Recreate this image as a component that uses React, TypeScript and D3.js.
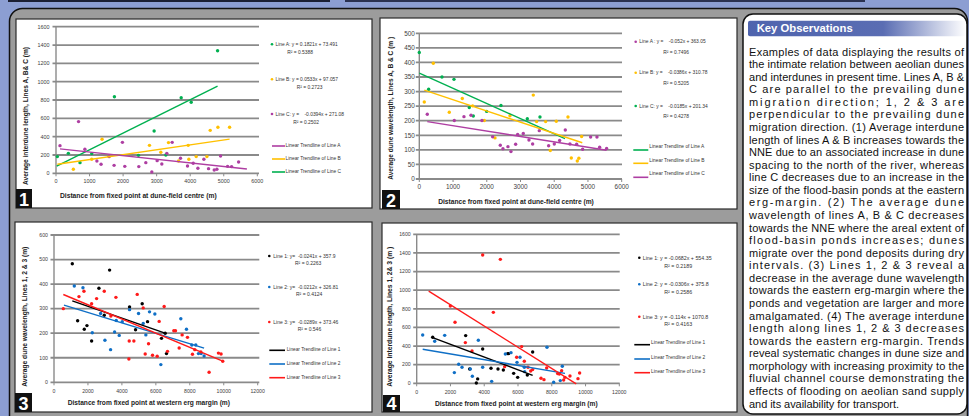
import React from 'react';
import * as d3 from 'd3';

type Pt = [number, number];

const FONT = "'Liberation Sans', Arial, Helvetica, sans-serif";

// ================= DATA =================
// Panel 1 – average interdune length (m), lines A, B & C
const p1Green: Pt[] = [[40, 182], [368, 218], [716, 116], [1065, 215], [1741, 836], [2458, 196], [2925, 462], [3274, 200], [3731, 825], [4030, 775], [4816, 1338]];
const p1Yellow: Pt[] = [[517, 44], [1065, 153], [1373, 371], [1582, 182], [2786, 305], [3124, 229], [3353, 335], [3652, 135], [3940, 305], [3960, 153], [4179, 182], [4498, 182], [4597, 469], [4826, 502], [5174, 502]];
const p1Purple: Pt[] = [[119, 302], [672, 564], [861, 262], [1219, 135], [1343, 98], [1582, 182], [1731, 87], [1980, 338], [2050, 76], [2468, 73], [2677, 116], [2856, 15], [3015, 138], [3154, 102], [3303, 218], [3463, 338], [3711, 164], [3920, 80], [4090, 109], [4229, 55], [4408, 153], [4547, 51], [4716, 36], [4796, 44], [4905, 189], [5114, 76], [5234, 73], [5443, 124]];
const p1Trends: number[][] = [[0.1821, 73.491], [0.0533, 97.057], [-0.0394, 271.08]];
const p1TrendSpans: number[][] = [[20, 4816], [40, 5174], [119, 5690]];
const p1Equations = ['Line A: y = 0.1821x + 73.491', 'Line B: y = 0.0533x + 97.057', 'Line C: y =    -0.0394x + 271.08'];
const p1R2 = ['R\u00B2 = 0.5388', 'R\u00B2 = 0.2723', 'R\u00B2 = 0.2502'];
const p1TrendNames = ['Linear Trendline of Line A', 'Linear Trendline of Line B', 'Linear Trendline of Line C'];

// Panel 2 – average dune wavelength (m), lines A, B & C
const p2Green: Pt[] = [[0, 434], [277, 308], [672, 350], [1028, 342], [1482, 245], [1601, 216], [1996, 232], [2421, 252], [3202, 207], [3577, 213]];
const p2Yellow: Pt[] = [[148, 264], [415, 397], [889, 229], [1275, 276], [1581, 251], [1927, 201], [2243, 141], [2688, 217], [3379, 288], [3478, 197], [3745, 197], [3883, 98], [4061, 198], [4407, 213], [4506, 72], [4684, 62], [4730, 71], [4812, 146]];
const p2Purple: Pt[] = [[237, 222], [1038, 201], [1324, 214], [1532, 219], [1858, 201], [2174, 145], [2401, 116], [2480, 104], [2628, 111], [2717, 94], [2856, 119], [2915, 153], [3083, 156], [3251, 134], [3360, 120], [3557, 166], [3834, 114], [4002, 120], [4160, 132], [4328, 168], [4466, 120], [4664, 119], [4842, 102], [5079, 144], [5267, 144], [5346, 109], [5553, 105]];
const p2Trends: number[][] = [[-0.052, 363.05], [-0.0386, 310.78], [-0.0185, 201.34]];
const p2TrendSpans: number[][] = [[0, 4318], [148, 4832], [237, 5553]];
const p2Equations = ['Line A : y =    -0.052x + 363.05', 'Line B: y =    -0.0386x + 310.78', 'Line C: y =    -0.0185x + 201.34'];
const p2R2 = ['R\u00B2 = 0.7496', 'R\u00B2 = 0.5205', 'R\u00B2 = 0.4278'];
const p2TrendNames = ['Linear Trendline of Line A', 'Linear Trendline of Line B', 'Linear Trendline of Line C'];

// Panel 3 – average dune wavelength (m), lines 1, 2 & 3
const p3Black: Pt[] = [[1078, 483], [1392, 251], [1784, 216], [1941, 231], [2216, 168], [2647, 383], [2961, 273], [3275, 457], [4451, 307], [4804, 214], [5196, 320], [5510, 247], [6333, 179], [6549, 200], [6627, 117]];
const p3Blue: Pt[] = [[1196, 392], [1706, 385], [2255, 202], [2745, 280], [3000, 171], [3333, 133], [3569, 205], [3667, 252], [3843, 191], [4020, 247], [4451, 296], [4980, 280], [5255, 240], [5412, 193], [5627, 287], [5941, 278], [6294, 72], [7471, 259], [7804, 216], [8118, 152], [8353, 152], [8510, 117], [8667, 117], [8843, 107]];
const p3Red: Pt[] = [[549, 300], [1471, 349], [1765, 371], [2216, 320], [2510, 341], [2961, 371], [3353, 270], [3647, 346], [4412, 95], [4431, 168], [4706, 168], [4902, 358], [5255, 303], [5373, 115], [5569, 157], [5804, 110], [6078, 106], [6196, 248], [6490, 309], [6686, 126], [7059, 210], [7157, 210], [7373, 140], [7549, 193], [7863, 183], [8157, 114], [8294, 133], [8647, 124], [9137, 41], [9686, 119], [9843, 115], [9941, 86]];
const p3Trends: number[][] = [[-0.0241, 357.9], [-0.0212, 326.81], [-0.0289, 373.46]];
const p3TrendSpans: number[][] = [[1078, 6627], [588, 8843], [549, 9941]];
const p3Equations = ['Line 1: y=  -0.0241x + 357.9', 'Line 2: y=  -0.0212x + 326.81', 'Line 3: y=  -0.0289x + 373.46'];
const p3R2 = ['R\u00B2 = 0.2263', 'R\u00B2 = 0.4124', 'R\u00B2 = 0.546'];
const p3TrendNames = ['Linear Trendline of Line 1', 'Linear Trendline of Line 2', 'Linear Trendline of Line 3'];

// Panel 4 – average interdune length (m), lines 1, 2 & 3
const p4Black: Pt[] = [[947, 494], [2901, 512], [3138, 154], [3533, 4], [3612, 47], [3908, 369], [4401, 161], [4816, 154], [5132, 143], [5388, 319], [5447, 319], [5743, 107], [5980, 64], [6552, 89], [6868, 336]];
const p4Blue: Pt[] = [[355, 519], [1066, 451], [1658, 515], [2230, 115], [2487, 204], [2684, 172], [3178, 154], [3296, 75], [3651, 462], [3908, 172], [4441, 21], [5250, 315], [5586, 329], [5941, 225], [6118, 279], [6374, 172], [6394, 125], [7717, 387], [8112, 11], [8506, 29], [8625, 183]];
const p4Red: Pt[] = [[1993, 830], [2270, 655], [2881, 437], [3276, 347], [3908, 1378], [4539, 762], [4954, 1331], [5210, 179], [5921, 279], [6217, 394], [6374, 236], [6592, 172], [6750, 132], [6868, 147], [7362, 54], [7539, 39], [7697, 165], [8348, 104], [8447, 100], [8585, 136], [8704, 36], [8782, 64], [9078, 79], [9552, 50], [9651, 111]];
const p4Trends: number[][] = [[-0.0682, 554.35], [-0.0306, 375.8], [-0.114, 1070.8]];
const p4TrendSpans: number[][] = [[947, 6868], [355, 8782], [710, 9450]];
const p4Equations = ['Line 1: y = -0.0682x + 554.35', 'Line 2: y = -0.0306x + 375.8', 'Line 3: y = -0.114x + 1070.8'];
const p4R2 = ['R\u00B2 = 0.2189', 'R\u00B2 = 0.2586', 'R\u00B2 = 0.4163'];
const p4TrendNames = ['Linear Trendline of Line 1', 'Linear Trendline of Line 2', 'Linear Trendline of Line 3'];

const keyTitle = 'Key Observations';
const keyLines = [
  'Examples of data displaying the results of',
  'the intimate relation between aeolian dunes',
  'and interdunes in present time. Lines A, B &',
  'C are parallel to the prevailing dune',
  'migration direction; 1, 2 & 3 are',
  'perpendicular to the prevailing dune',
  'migration direction. (1) Average interdune',
  'length of lines A & B increases towards the',
  'NNE due to an associated increase in dune',
  'spacing to the north of the river, whereas',
  'line C decreases due to an increase in the',
  'size of the flood-basin ponds at the eastern',
  'erg-margin. (2) The average dune',
  'wavelength of lines A, B & C decreases',
  'towards the NNE where the areal extent of',
  'flood-basin ponds increases; dunes',
  'migrate over the pond deposits during dry',
  'intervals. (3) Lines 1, 2 & 3 reveal a',
  'decrease in the average dune wavelength',
  'towards the eastern erg-margin where the',
  'ponds and vegetation are larger and more',
  'amalgamated. (4) The average interdune',
  'length along lines 1, 2 & 3 decreases',
  'towards the eastern erg-margin. Trends',
  'reveal systematic changes in dune size and',
  'morphology with increasing proximity to the',
  'fluvial channel course demonstrating the',
  'effects of flooding on aeolian sand supply',
  'and its availability for transport.',
];

// ================= STYLE =================
const C = {
  green: '#00b050', yellow: '#ffc000', purple: '#ae3ea2',
  black: '#000000', blue: '#0f6fc6', red: '#ff1a1a',
  grid: '#8a8a8a', tick: '#404040', bg: '#8c9ed2', panel: '#9c9c9c',
};

interface PanelCfg {
  num: string;
  box: number[];
  plot: number[]; // x0, x1, yBottom, yTop
  gridRight: number;
  xDomain: number[]; yDomain: number[]; xStep: number; yStep: number;
  tickFont: number; yLabelGap: number; xLabelGap: number;
  xTitle: string; xTitlePos: number[]; // cx, baseline, length
  yTitle: string; yTitlePos: number[]; // x, cy, length
  series: Pt[][]; colors: string[]; trends: number[][]; spans: number[][];
  legend: { markerX: number; textX: number; ys: number[]; r2X: number[]; r2Ys: number[]; eq: string[]; r2: string[]; colors: string[]; font: number };
  tLegend: { x0: number; x1: number; ys: number[]; textX: number; textYs: number[]; names: string[]; colors: string[]; font: number };
  badge: number[];
}

function Panel({ p }: { p: PanelCfg }) {
  const x = d3.scaleLinear().domain(p.xDomain).range([p.plot[0], p.plot[1]]);
  const y = d3.scaleLinear().domain(p.yDomain).range([p.plot[2], p.plot[3]]);
  const xt = d3.range(p.xDomain[0], p.xDomain[1] + 1, p.xStep);
  const yt = d3.range(p.yDomain[0], p.yDomain[1] + 1, p.yStep);
  const line = d3.line<Pt>().x(d => x(d[0])).y(d => y(d[1]));
  const [bx, by, bw, bh] = p.box;
  return (
    <g fontFamily={FONT}>
      <rect x={bx} y={by} width={bw} height={bh} fill="#fff" stroke="#2a2a2a" strokeWidth={1.2} />
      {yt.map(v => (
        <line key={'g' + v} x1={p.plot[0] - 3.5} x2={p.gridRight} y1={y(v)} y2={y(v)} stroke={C.grid} strokeWidth={1.8} />
      ))}
      <line x1={p.plot[0]} x2={p.plot[0]} y1={y(p.yDomain[1])} y2={y(0)} stroke={C.grid} strokeWidth={1.4} />
      {xt.map(v => (
        <line key={'xt' + v} x1={x(v)} x2={x(v)} y1={y(0)} y2={y(0) + 3} stroke={C.grid} strokeWidth={1} />
      ))}
      {yt.map(v => (
        <text key={'yl' + v} x={p.plot[0] - p.yLabelGap} y={y(v) + p.tickFont * 0.35} textAnchor="end" fontSize={p.tickFont} fill={C.tick}>{v}</text>
      ))}
      {xt.map(v => (
        <text key={'xl' + v} x={x(v)} y={y(0) + p.xLabelGap} textAnchor="middle" fontSize={p.tickFont} fill={C.tick}>{v}</text>
      ))}
      {p.series.map((pts, i) => (
        <g key={'s' + i}>
          {pts.map((d, j) => (
            <circle key={j} cx={x(d[0])} cy={y(d[1])} r={1.7} fill={p.colors[i]} />
          ))}
        </g>
      ))}
      {p.trends.map((t, i) => {
        const [x0, x1] = p.spans[i];
        const seg: Pt[] = [[x0, t[0] * x0 + t[1]], [x1, t[0] * x1 + t[1]]];
        return <path key={'t' + i} d={line(seg) || ''} stroke={p.colors[i]} strokeWidth={1.4} fill="none" />;
      })}
      {p.legend.eq.map((s, i) => (
        <g key={'lg' + i}>
          <circle cx={p.legend.markerX} cy={p.legend.ys[i]} r={1.3} fill={p.legend.colors[i]} />
          <text x={p.legend.textX} y={p.legend.ys[i] + p.legend.font * 0.35} fontSize={p.legend.font} fill="#333" style={{ whiteSpace: 'pre' }}>{s}</text>
          <text x={p.legend.r2X[i]} y={p.legend.r2Ys[i] + p.legend.font * 0.35} fontSize={p.legend.font} fill="#333">{p.legend.r2[i]}</text>
        </g>
      ))}
      {p.tLegend.names.map((s, i) => (
        <g key={'tl' + i}>
          <line x1={p.tLegend.x0} x2={p.tLegend.x1} y1={p.tLegend.ys[i]} y2={p.tLegend.ys[i]} stroke={p.tLegend.colors[i]} strokeWidth={1.6} />
          <text x={p.tLegend.textX} y={p.tLegend.textYs[i] + p.tLegend.font * 0.35} fontSize={p.tLegend.font} fill="#333">{s}</text>
        </g>
      ))}
      <text x={p.xTitlePos[0]} y={p.xTitlePos[1]} textAnchor="middle" fontSize={7} fontWeight="bold" fill="#222"
        textLength={p.xTitlePos[2]} lengthAdjust="spacingAndGlyphs">{p.xTitle}</text>
      <text x={p.yTitlePos[0]} y={p.yTitlePos[1]} transform={`rotate(-90 ${p.yTitlePos[0]} ${p.yTitlePos[1]})`} textAnchor="middle"
        dominantBaseline="central" fontSize={6.6} fontWeight="bold" fill="#222" textLength={p.yTitlePos[2]} lengthAdjust="spacingAndGlyphs">{p.yTitle}</text>
      <rect x={p.badge[0]} y={p.badge[1]} width={p.badge[2]} height={p.badge[3]} fill="#111" />
      <text x={p.badge[0] + p.badge[2] / 2} y={p.badge[1] + p.badge[3] - 2.5} textAnchor="middle" fontSize={18} fontWeight="bold" fill="#fff">{p.num}</text>
    </g>
  );
}

const panels: PanelCfg[] = [
  {
    num: '1', box: [16, 19, 356, 189], plot: [56, 257.3, 173.3, 26.7], gridRight: 259,
    xDomain: [0, 6000], yDomain: [0, 1600], xStep: 1000, yStep: 200, tickFont: 5.4, yLabelGap: 6.5, xLabelGap: 9.3,
    xTitle: 'Distance from fixed point at dune-field centre (m)', xTitlePos: [138.3, 197.6, 156.7],
    yTitle: 'Average interdune length, Lines A, B& C (m)', yTitlePos: [25.5, 116, 138],
    series: [p1Green, p1Yellow, p1Purple], colors: [C.green, C.yellow, C.purple], trends: p1Trends, spans: p1TrendSpans,
    legend: { markerX: 272, textX: 275.5, ys: [44.3, 79.3, 114], r2X: [287.3, 296.7, 293.3], r2Ys: [52, 87, 122], eq: p1Equations, r2: p1R2, colors: [C.green, C.yellow, C.purple], font: 4.9 },
    tLegend: { x0: 272, x1: 285, ys: [146, 159, 172], textX: 285.5, textYs: [145.7, 158.7, 171.7], names: p1TrendNames, colors: [C.purple, C.yellow, C.green], font: 4.85 },
    badge: [16, 189, 16, 19],
  },
  {
    num: '2', box: [380, 18, 357, 191], plot: [419.3, 621.7, 179, 33.3], gridRight: 622,
    xDomain: [0, 6000], yDomain: [0, 500], xStep: 1000, yStep: 50, tickFont: 6.4, yLabelGap: 4.5, xLabelGap: 9.8,
    xTitle: 'Distance from fixed point at dune-field centre (m)', xTitlePos: [516, 203.6, 155.7],
    yTitle: 'Average dune wavelength, Lines A, B & C (m )', yTitlePos: [390.7, 108.3, 143],
    series: [p2Green, p2Yellow, p2Purple], colors: [C.green, C.yellow, C.purple], trends: p2Trends, spans: p2TrendSpans,
    legend: { markerX: 635.7, textX: 639.3, ys: [41.7, 72.7, 106], r2X: [663.3, 663.3, 663.3], r2Ys: [52.3, 83.3, 116.7], eq: p2Equations, r2: p2R2, colors: [C.purple, C.yellow, C.green], font: 4.9 },
    tLegend: { x0: 633.3, x1: 648.3, ys: [150, 163.3, 177.3], textX: 649.3, textYs: [146.7, 160, 173.7], names: p2TrendNames, colors: [C.green, C.yellow, C.purple], font: 4.85 },
    badge: [382, 190, 18, 19],
  },
  {
    num: '3', box: [15, 222, 357, 190], plot: [54, 257.7, 382.3, 235], gridRight: 259.3,
    xDomain: [0, 12000], yDomain: [0, 600], xStep: 2000, yStep: 100, tickFont: 5.2, yLabelGap: 6, xLabelGap: 10.5,
    xTitle: 'Distance from fixed point at western erg margin (m)', xTitlePos: [148.8, 404.9, 162.3],
    yTitle: 'Average dune wavelength, Lines 1, 2 & 3 (m)', yTitlePos: [25, 316.7, 140],
    series: [p3Black, p3Blue, p3Red], colors: [C.black, C.blue, C.red], trends: p3Trends, spans: p3TrendSpans,
    legend: { markerX: 269.3, textX: 273.3, ys: [256, 287, 322], r2X: [295, 296, 297.7], r2Ys: [263.3, 294.7, 329.7], eq: p3Equations, r2: p3R2, colors: [C.black, C.blue, C.red], font: 5 },
    tLegend: { x0: 269.3, x1: 285, ys: [350.3, 364, 377.7], textX: 286.7, textYs: [349, 363, 377], names: p3TrendNames, colors: [C.black, C.blue, C.red], font: 4.75 },
    badge: [15, 393, 17, 19],
  },
  {
    num: '4', box: [382, 223, 355, 189], plot: [416.7, 619.3, 383.3, 234.3], gridRight: 619.7,
    xDomain: [0, 12000], yDomain: [0, 1600], xStep: 2000, yStep: 200, tickFont: 5.2, yLabelGap: 6, xLabelGap: 10.8,
    xTitle: 'Distance from fixed point at western erg margin (m)', xTitlePos: [516.3, 405.9, 162.7],
    yTitle: 'Average interdune length, Lines 1, 2& 3 (m )', yTitlePos: [390, 316.7, 140],
    series: [p4Black, p4Blue, p4Red], colors: [C.black, C.blue, C.red], trends: p4Trends, spans: p4TrendSpans,
    legend: { markerX: 639.3, textX: 642.7, ys: [257.7, 284.3, 316.7], r2X: [664.3, 664.3, 664.3], r2Ys: [265.7, 292.3, 324.3], eq: p4Equations, r2: p4R2, colors: [C.black, C.blue, C.red], font: 5.3 },
    tLegend: { x0: 634.3, x1: 650, ys: [344.7, 359, 372.7], textX: 651, textYs: [342.7, 357, 371.3], names: p4TrendNames, colors: [C.black, C.blue, C.red], font: 4.8 },
    badge: [383, 395, 17, 17],
  },
];

export default function App() {
  const lineH = 12.57;
  return (
    <div>
      <svg width={969} height={416} style={{ position: 'absolute', left: 0, top: 0 }} fontFamily={FONT}>
        <defs>
          <linearGradient id="hdr" x1="0" x2="1" y1="0" y2="0">
            <stop offset="0" stopColor="#4f64ae" />
            <stop offset="0.62" stopColor="#5a6db3" />
            <stop offset="1" stopColor="#ffffff" />
          </linearGradient>
        </defs>
        <rect x={0} y={0} width={969} height={416} fill={C.bg} />
        <rect x={8} y={-4} width={322} height={6} fill="#1b1f33" />
        <rect x={345} y={-4} width={520} height={6} fill="#2a3150" />
        <rect x={9.5} y={8.5} width={958} height={420} rx={13} ry={13} fill={C.panel} stroke="#111" strokeWidth={1.5} />
        {panels.map(p => <Panel key={p.num} p={p} />)}
        <rect x={743} y={14} width={224} height={400} rx={10} ry={10} fill="#fff" stroke="#111" strokeWidth={1.5} />
        <rect x={748} y={20.7} width={218} height={15.5} rx={2} fill="url(#hdr)" />
        <text x={756.7} y={31.8} fontSize={11.3} fontWeight="bold" fill="#fff" textLength={96} lengthAdjust="spacingAndGlyphs">{keyTitle}</text>
        {keyLines.map((s, i) => {
          const last = i === keyLines.length - 1;
          return (
            <text key={i} x={749} y={55.6 + i * lineH} fontSize={11} fill="#111"
              textLength={last ? 150 : 215} lengthAdjust="spacing">{s}</text>
          );
        })}
      </svg>
    </div>
  );
}
